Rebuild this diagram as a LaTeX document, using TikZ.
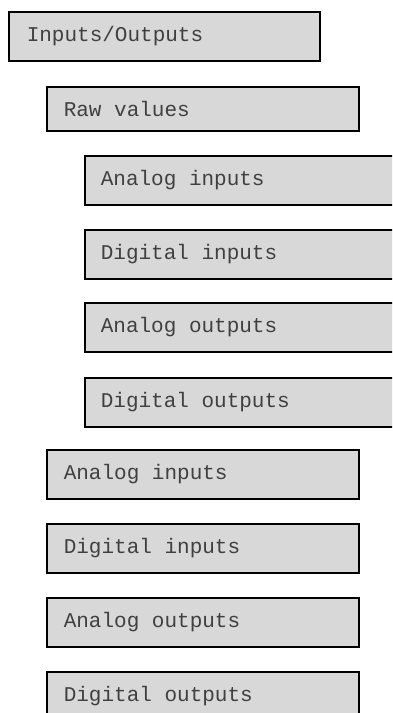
\documentclass[tikz,border=0pt]{standalone}
\usepackage{fontspec}
\newfontfamily\boxfont{Liberation Mono}
\definecolor{boxfill}{HTML}{D8D8D8}
\definecolor{boxtext}{HTML}{404040}
\newcommand\gp{\hspace*{0.6em}}
\begin{document}
\begin{tikzpicture}[x=1pt,y=-1pt,
  box/.style={draw=black, line width=1.6pt, fill=boxfill, rectangle, anchor=north west,
    inner ysep=0pt, text=boxtext, align=left,
    font=\boxfont\fontsize{21}{24}\selectfont},
  lvl0/.style={box, minimum width=311pt, minimum height=49pt, inner xsep=18pt, text width=275pt},
  lvl1/.style={box, minimum width=312pt, minimum height=49pt, inner xsep=17pt, text width=278pt},
  lvl2/.style={box, minimum width=340pt, minimum height=49pt, inner xsep=16pt, text width=308pt}]
\useasboundingbox (0,0) rectangle (392,713);
\clip (0,0) rectangle (392,713);
\node[lvl0] (io) at (8,11) {Inputs/Outputs};
\node[lvl1, minimum height=44pt] (raw) at (46,86) {Raw\gp values};
\node[lvl2] (rai) at (84,155) {Analog\gp inputs};
\node[lvl2] (rdi) at (84,229) {Digital\gp inputs};
\node[lvl2] (rao) at (84,302) {Analog\gp outputs};
\node[lvl2] (rdo) at (84,377) {Digital\gp outputs};
\node[lvl1] (ai) at (46,449) {Analog\gp inputs};
\node[lvl1] (di) at (46,523) {Digital\gp inputs};
\node[lvl1] (ao) at (46,597) {Analog\gp outputs};
\node[lvl1] (do) at (46,671) {Digital\gp outputs};
\end{tikzpicture}
\end{document}
